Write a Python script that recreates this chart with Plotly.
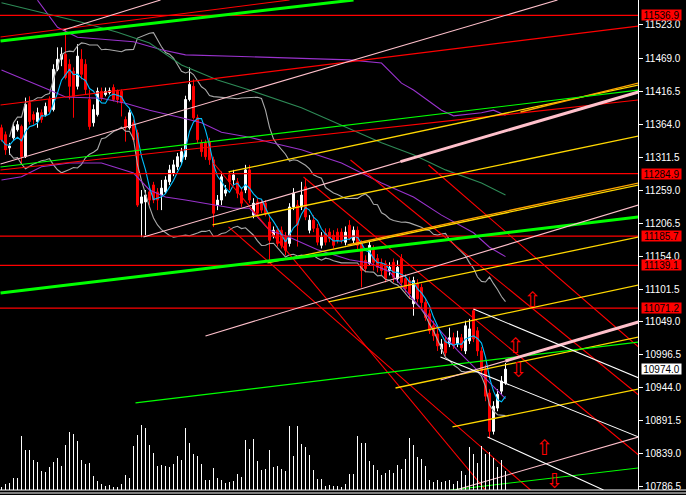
import plotly.graph_objects as go
import pandas as pd

# ---------------- data ----------------
opens = [11358,11347,11326,11342,11355,11360,11312,11398,11379,11368,
         11382,11379,11403,11387,11451,11467,11475,11459,11448,11424,
         11467,11459,11403,11366,11379,11416,11411,11414,11422,11416,
         11416,11371,11358,11366,11350,11238,11240,11256,11267,11256,
         11251,11256,11272,11286,11296,11304,11312,11403,11424,11374,
         11334,11334,11336,11307,11235,11243,11254,11283,11275,11272,
         11256,11259,11291,11219,11240,11238,11238,11208,11187,11195,
         11195,11184,11174,11232,11235,11232,11264,11195,11211,11198,
         11171,11190,11192,11187,11192,11192,11176,11203,11179,11195,
         11174,11147,11142,11163,11150,11142,11142,11131,11144,11118,
         11150,11118,11115,11078,11110,11104,11080,11062,11043,11030,
         11006,11019,11014,11024,11014,11024,11003,11019,11067,11035,
         11003,10974,10936,10875,10912,10939,10952]
closes = [11339,11323,11329,11360,11363,11312,11395,11368,11371,11382,
          11371,11392,11384,11451,11467,11475,11438,11424,11408,11472,
          11443,11419,11360,11387,11416,11406,11416,11417,11403,11403,
          11398,11358,11382,11339,11235,11248,11251,11243,11243,11243,
          11262,11275,11291,11299,11312,11320,11403,11427,11374,11339,
          11320,11312,11307,11222,11243,11280,11259,11272,11283,11254,
          11238,11291,11243,11238,11222,11227,11222,11179,11195,11174,
          11171,11163,11232,11254,11203,11251,11216,11211,11198,11176,
          11184,11176,11182,11171,11179,11179,11192,11182,11195,11171,
          11131,11134,11171,11144,11136,11131,11118,11136,11120,11136,
          11112,11102,11094,11115,11086,11080,11056,11035,11027,11011,
          11014,11000,11024,11011,11024,11008,11043,11038,11022,11003,
          10971,10931,10875,10915,10934,10955,10974.0]
highs = [11363,11352,11334,11365,11369,11363,11406,11408,11384,11390,
         11387,11398,11408,11459,11486,11486,11515,11467,11454,11491,
         11483,11467,11419,11395,11422,11422,11422,11422,11427,11419,
         11419,11376,11387,11371,11355,11259,11259,11262,11272,11262,
         11275,11281,11299,11307,11318,11326,11409,11454,11435,11379,
         11339,11339,11342,11312,11251,11288,11267,11288,11291,11278,
         11262,11299,11299,11246,11246,11243,11243,11219,11201,11201,
         11201,11192,11238,11262,11243,11272,11278,11219,11219,11205,
         11192,11198,11198,11195,11198,11198,11201,11211,11201,11201,
         11179,11155,11179,11171,11157,11150,11147,11144,11150,11147,
         11157,11125,11121,11121,11117,11110,11086,11069,11051,11038,
         11022,11027,11040,11032,11035,11030,11051,11054,11070,11041,
         11009,10981,10942,10923,10942,10963,10984]
lows = [11336,11315,11315,11339,11352,11299,11310,11363,11363,11358,
        11366,11376,11381,11384,11448,11456,11435,11403,11374,11419,
        11435,11411,11355,11360,11376,11401,11408,11411,11400,11397,
        11376,11336,11355,11336,11232,11184,11187,11235,11238,11227,
        11227,11253,11267,11281,11291,11299,11307,11400,11371,11334,
        11312,11307,11299,11200,11227,11235,11249,11259,11267,11246,
        11232,11254,11238,11214,11217,11222,11217,11147,11182,11169,
        11166,11155,11169,11227,11169,11227,11211,11190,11192,11171,
        11166,11171,11176,11166,11174,11174,11171,11179,11174,11163,
        11104,11128,11139,11131,11128,11123,11112,11123,11112,11112,
        11102,11096,11086,11059,11080,11070,11051,11030,11019,11003,
        10998,10995,11009,11006,11009,11003,10998,11014,11017,10995,
        10966,10923,10864,10870,10907,10934,10949]
volumes = [3,6,7,12,12,54,40,40,30,28,19,18,23,28,32,24,45,58,56,49,
           30,26,27,14,9,6,4,5,3,3,6,15,12,44,55,65,62,45,37,24,
           25,24,23,26,34,30,62,47,36,34,26,10,10,22,12,10,7,8,9,16,
           13,50,41,
           51,29,20,21,40,23,24,21,19,64,34,64,46,43,35,20,11,11,4,5,
           4,4,3,6,16,16,54,47,47,29,25,20,15,17,20,17,25,21,31,52,
           45,33,31,24,10,8,10,8,9,10,6,9,19,15,43,36,27,44,36,38,
           32,23,30,19]
bars = list(range(len(closes)))

levels = [11536.9, 11284.9, 11185.7, 11139.1, 11071.2]
last_price = 10974.0
tick_values = [11523.0, 11469.0, 11416.5, 11364.0, 11311.5, 11259.0, 11206.5,
               11154.0, 11101.5, 11049.0, 10996.5, 10944.0, 10891.5, 10839.0, 10786.5]

# indicator lines (bar index, price)
purple_upper_i = [9,14,19,27,33,40,46,62,75,87,95,100,103,110,113,120,123,126]
purple_upper_p = [11561,11518,11502,11498,11495,11482,11474,11471,11469,11466,11461,11429,11418,11386,11377,11382,11386,11378]
purple_mid_i = [0,5,12,16,25,31,37,45,50,55,62,67,72,75,85,95,103,110,118,122,126]
purple_mid_p = [11450,11437,11418,11407,11405,11397,11386,11374,11366,11351,11343,11335,11327,11323,11302,11270,11248,11219,11191,11168,11153]
purple_low_i = [0,5,10,17,25,33,37,41,46,51,58,62,67,72,79,87,92,97,103,109,114,120,126]
purple_low_p = [11275,11280,11296,11302,11302,11286,11259,11248,11243,11238,11230,11230,11195,11184,11164,11148,11143,11129,11084,11040,11004,10965,10927]
dkgreen_i = [0,10,20,29,37,45,54,62,75,85,95,103,111,120,126]
dkgreen_p = [11557,11541,11526,11510,11493,11458,11434,11418,11390,11362,11334,11315,11291,11270,11251]

# trend lines: (start bar, start price, end bar, end price)
red_lines = [(-0.25,11502.4,72.0,11561.3),(-0.25,11394.3,159.25,11519.9),
             (-0.25,11290.8,159.25,11402.2),(75.5,11279.7,159.25,10837.4),
             (87.25,11306.7,159.25,10932.9),(106.75,11298.8,159.25,11009.3),
             (53.0,11302.0,121.0,10781.7),(56.75,11200.2,132.25,10781.7)]
lime_thick = [(-0.25,11496.1,88.0,11561.3),(-0.25,11095.2,159.25,11216.1)]
lime_thin = [(-0.25,11295.6,159.25,11418.1),(33.5,10920.2,159.25,11017.2),
             (112.25,10781.7,159.25,10816.8)]
pink_thin = [(15.5,11513.6,39.75,11561.3),(-0.25,11300.4,139.0,11561.3),
             (35.5,11184.3,159.25,11415.0),(51.0,11026.8,159.25,11235.2),
             (109.75,10956.8,159.25,11049.0),(113.5,10781.7,159.25,10866.0)]
pink_thick = [(99.75,11304.2,159.25,11415.0),(126.0,10987.0,159.25,11049.0)]
gold_lines = [(56.75,11287.7,159.25,11426.1),(52.75,11203.4,159.25,11344.9),
              (66.5,11142.9,159.25,11267.0),(81.75,11080.9,159.25,11184.3),
              (96.0,11022.0,159.25,11107.9),(98.5,10944.0,159.25,11025.2),
              (112.75,10882.0,159.25,10942.4)]
orange_lines = [(86.5,11171.5,159.25,11270.2),(129.75,11383.1,159.25,11429.3)]
white_lines = [(118.0,11069.7,159.25,10960.0),(109.75,10993.3,159.25,10866.1),
               (121.5,10866.1,150.5,10781.7)]

arrow_i = [132.75, 128.5, 129.25, 135.75, 138.25]
arrow_p = [11080.9, 11007.7, 10969.5, 10845.4, 10792.9]
arrow_dir = ["up", "up", "down", "up", "down"]

# ---------------- figure ----------------
X0, X1 = -0.375, 159.125
Y0, Y1 = 10781.7, 11561.3

cl = pd.Series(closes, dtype=float)
sma5 = cl.rolling(5, min_periods=1).mean()
mid20 = cl.rolling(20, min_periods=3).mean()
sd20 = cl.rolling(20, min_periods=3).std(ddof=0)
bb_up = mid20 + 2 * sd20
bb_dn = mid20 - 2 * sd20

fig = go.Figure()

fig.add_trace(go.Bar(x=bars, y=volumes, yaxis="y2", width=0.25,
                     marker=dict(color="white", line=dict(width=0)), hoverinfo="skip"))

fig.add_trace(go.Candlestick(
    x=bars, open=opens, high=highs, low=lows, close=closes,
    increasing=dict(line=dict(color="white", width=1), fillcolor="white"),
    decreasing=dict(line=dict(color="#FF0000", width=1), fillcolor="#FF0000"),
    whiskerwidth=0, hoverinfo="skip"))

def seg_trace(segs, color, width):
    xs, ys = [], []
    for a, b, c, d in segs:
        xs += [a, c, None]
        ys += [b, d, None]
    return go.Scatter(x=xs, y=ys, mode="lines", line=dict(color=color, width=width),
                      hoverinfo="skip")

def line_trace(xs, ys, color, width=1.1):
    return go.Scatter(x=xs, y=ys, mode="lines", line=dict(color=color, width=width),
                      hoverinfo="skip")

fig.add_trace(line_trace(bars, bb_up, "#A9A9A9"))
fig.add_trace(line_trace(bars, bb_dn, "#A9A9A9"))
fig.add_trace(line_trace(purple_upper_i, purple_upper_p, "#9932CC"))
fig.add_trace(line_trace(purple_mid_i, purple_mid_p, "#9932CC"))
fig.add_trace(line_trace(purple_low_i, purple_low_p, "#9932CC"))
fig.add_trace(line_trace(dkgreen_i, dkgreen_p, "#2E8B57"))
fig.add_trace(line_trace(bars, sma5, "#00BFFF"))

fig.add_trace(seg_trace([(X0, v, X1, v) for v in levels], "#FF0000", 1.3))
fig.add_trace(seg_trace(red_lines, "#FF0000", 1.1))
fig.add_trace(seg_trace(gold_lines, "#FFD700", 1.3))
fig.add_trace(seg_trace(orange_lines, "#FFA500", 1.3))
fig.add_trace(seg_trace(lime_thin, "#00FF00", 1.2))
fig.add_trace(seg_trace(lime_thick, "#00FF00", 3))
fig.add_trace(seg_trace(pink_thin, "#FFC0CB", 1.1))
fig.add_trace(seg_trace(pink_thick, "#FFC0CB", 3))
fig.add_trace(seg_trace(white_lines, "#FFFFFF", 1.1))

fig.add_trace(go.Scatter(
    x=arrow_i, y=arrow_p, mode="text",
    text=["\u21e7" if d == "up" else "\u21e9" for d in arrow_dir],
    textfont=dict(color="#FF0000", size=21, family="DejaVu Sans"),
    hoverinfo="skip"))

annotations = []
for v in levels:
    annotations.append(dict(x=1, xref="paper", xanchor="left", xshift=3, y=v, yref="y",
                            text=f"{v:.1f}", showarrow=False, bgcolor="#FF0000",
                            width=39, height=10, borderpad=0,
                            font=dict(color="black", size=10, family="Liberation Sans")))
annotations.append(dict(x=1, xref="paper", xanchor="left", xshift=3, y=last_price, yref="y",
                        text=f"{last_price:.1f}", showarrow=False, bgcolor="white",
                        width=39, height=10, borderpad=0,
                        font=dict(color="black", size=10, family="Liberation Sans")))

plot_w = 686 - 48
shapes = [
    dict(type="line", xref="paper", yref="paper", x0=0, x1=686 / plot_w, y0=0, y1=0,
         line=dict(color="white", width=1)),
    dict(type="line", xref="paper", yref="paper", x0=0, x1=686 / plot_w,
         y0=-3 / 490, y1=-3 / 490, line=dict(color="white", width=1)),
]

fig.update_layout(
    width=686, height=495,
    margin=dict(l=0, r=48, t=0, b=5, autoexpand=False),
    paper_bgcolor="black", plot_bgcolor="black",
    showlegend=False,
    annotations=annotations, shapes=shapes,
    xaxis=dict(range=[X0, X1], showgrid=False, zeroline=False, showticklabels=False,
               ticks="", showline=False, rangeslider=dict(visible=False), fixedrange=True),
    yaxis=dict(range=[Y0, Y1], side="right", showgrid=False, zeroline=False,
               tickvals=tick_values, ticktext=[f"{v:.1f}" for v in tick_values],
               tickfont=dict(color="white", size=10, family="Liberation Sans"),
               ticks="outside", ticklen=4, tickcolor="white", tickwidth=1,
               showline=True, linecolor="white", linewidth=1, fixedrange=True),
    yaxis2=dict(range=[0, 490], overlaying="y", visible=False, fixedrange=True),
)

fig.write_html("out.html", config={"displayModeBar": False},
               post_script="document.body.style.margin='0';document.body.style.background='black';")
